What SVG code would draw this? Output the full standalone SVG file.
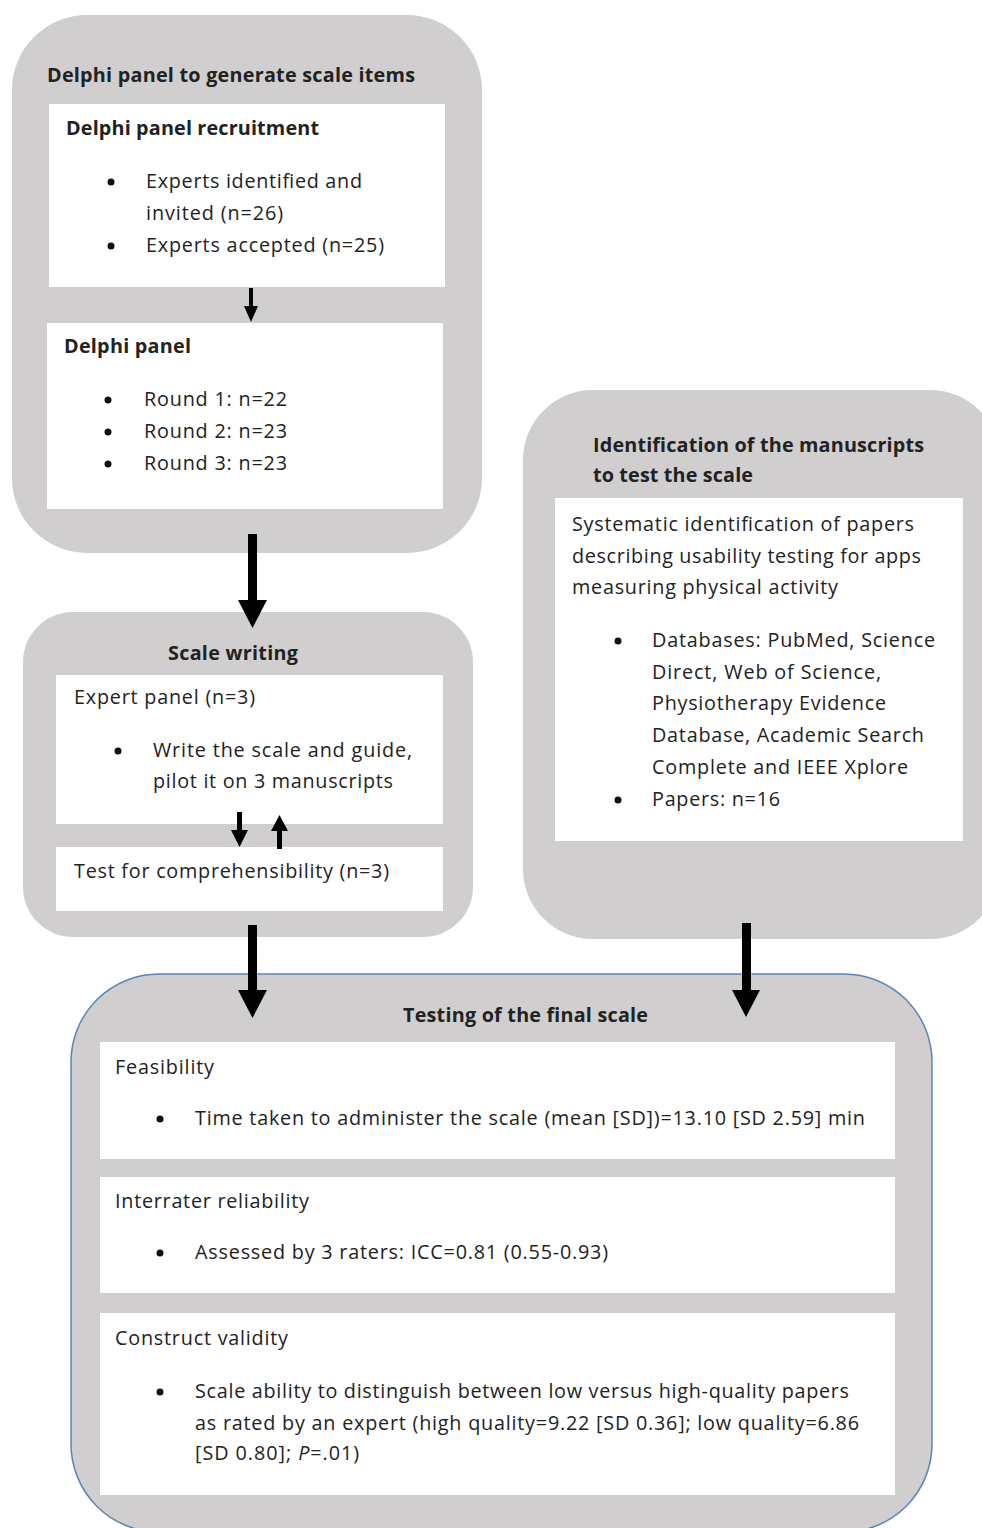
<svg xmlns="http://www.w3.org/2000/svg" width="982" height="1528" viewBox="0 0 982 1528">
<style>
.c{fill:#d0cece}
.cb{fill:#d0cece;stroke:#5a86b8;stroke-width:1.5}
.w{fill:#ffffff}
.t{font-family:"Open Sans","Noto Sans",sans-serif;font-size:19.8px;fill:#222222}
.b{font-weight:bold}
.dot{fill:#111111}
.ar{fill:#000000}
</style>
<rect width="982" height="1528" fill="#ffffff"/>

<g id="delphi">
<rect class="c" x="12" y="15" width="470" height="538" rx="75" ry="75"/>
<text class="t b" x="47" y="82" textLength="368">Delphi panel to generate scale items</text>
<g id="recruitment">
<rect class="w" x="49" y="104" width="396" height="183"/>
<text class="t b" x="66" y="135" textLength="253">Delphi panel recruitment</text>
<circle class="dot" cx="111" cy="182" r="3.5"/>
<text class="t" x="146" y="188" textLength="216">Experts identified and</text>
<text class="t" x="146" y="220" textLength="137">invited (n=26)</text>
<circle class="dot" cx="111" cy="246" r="3.5"/>
<text class="t" x="146" y="252" textLength="238">Experts accepted (n=25)</text>
</g>
<g id="panel">
<rect class="w" x="47" y="323" width="396" height="186"/>
<text class="t b" x="64" y="353" textLength="127">Delphi panel</text>
<circle class="dot" cx="108" cy="400" r="3.5"/>
<text class="t" x="144" y="406" textLength="143">Round 1: n=22</text>
<circle class="dot" cx="108" cy="432" r="3.5"/>
<text class="t" x="144" y="438" textLength="143">Round 2: n=23</text>
<circle class="dot" cx="108" cy="464" r="3.5"/>
<text class="t" x="144" y="470" textLength="143">Round 3: n=23</text>
</g>
</g>

<g id="scale-writing">
<rect class="c" x="23" y="612" width="450" height="325" rx="50" ry="50"/>
<text class="t b" x="168" y="660" textLength="130">Scale writing</text>
<g id="expert-panel">
<rect class="w" x="56" y="675" width="387" height="149"/>
<text class="t" x="74" y="704" textLength="181">Expert panel (n=3)</text>
<circle class="dot" cx="118" cy="751" r="3.5"/>
<text class="t" x="153" y="757" textLength="259">Write the scale and guide,</text>
<text class="t" x="153" y="788" textLength="240">pilot it on 3 manuscripts</text>
</g>
<g id="comprehensibility">
<rect class="w" x="56" y="847" width="387" height="64"/>
<text class="t" x="74" y="878" textLength="315">Test for comprehensibility (n=3)</text>
</g>
</g>

<g id="identification">
<rect class="c" x="523" y="390" width="477" height="549" rx="70" ry="70"/>
<text class="t b" x="593" y="452" textLength="331">Identification of the manuscripts</text>
<text class="t b" x="593" y="482" textLength="160">to test the scale</text>
<g id="systematic">
<rect class="w" x="555" y="498" width="408" height="343"/>
<text class="t" x="572" y="531" textLength="342">Systematic identification of papers</text>
<text class="t" x="572" y="563" textLength="349">describing usability testing for apps</text>
<text class="t" x="572" y="594" textLength="266">measuring physical activity</text>
<circle class="dot" cx="618" cy="641" r="3.5"/>
<text class="t" x="652" y="647" textLength="283">Databases: PubMed, Science</text>
<text class="t" x="652" y="679" textLength="229">Direct, Web of Science,</text>
<text class="t" x="652" y="710" textLength="234">Physiotherapy Evidence</text>
<text class="t" x="652" y="742" textLength="272">Database, Academic Search</text>
<text class="t" x="652" y="774" textLength="256">Complete and IEEE Xplore</text>
<circle class="dot" cx="618" cy="800" r="3.5"/>
<text class="t" x="652" y="806" textLength="128">Papers: n=16</text>
</g>
</g>

<g id="testing">
<rect class="cb" x="71" y="974" width="861" height="558" rx="88" ry="88"/>
<text class="t b" x="403" y="1022" textLength="245">Testing of the final scale</text>
<g id="feasibility">
<rect class="w" x="100" y="1042" width="795" height="117"/>
<text class="t" x="115" y="1074" textLength="99">Feasibility</text>
<circle class="dot" cx="160" cy="1119" r="3.5"/>
<text class="t" x="195" y="1125" textLength="670">Time taken to administer the scale (mean [SD])=13.10 [SD 2.59] min</text>
</g>
<g id="interrater">
<rect class="w" x="100" y="1177" width="795" height="116"/>
<text class="t" x="115" y="1208" textLength="194">Interrater reliability</text>
<circle class="dot" cx="160" cy="1253" r="3.5"/>
<text class="t" x="195" y="1259" textLength="413">Assessed by 3 raters: ICC=0.81 (0.55-0.93)</text>
</g>
<g id="construct">
<rect class="w" x="100" y="1313" width="795" height="182"/>
<text class="t" x="115" y="1345" textLength="173">Construct validity</text>
<circle class="dot" cx="160" cy="1392" r="3.5"/>
<text class="t" x="195" y="1398" textLength="654">Scale ability to distinguish between low versus high-quality papers</text>
<text class="t" x="195" y="1430" textLength="664">as rated by an expert (high quality=9.22 [SD 0.36]; low quality=6.86</text>
<text class="t" x="195" y="1460" textLength="164">[SD 0.80]; <tspan font-style="italic">P</tspan>=.01)</text>
</g>
</g>

<g id="connectors">
<polygon class="ar" points="249,288 253,288 253,306 258,306 251,322 244,306 249,306"/>
<polygon class="ar" points="248,534 257,534 257,600 267,600 252.5,628 238,600 248,600"/>
<polygon class="ar" points="237,812 242,812 242,830 248,830 239.5,847 231,830 237,830"/>
<polygon class="ar" points="277,849 282,849 282,831 288,831 279.5,815 271,831 277,831"/>
<polygon class="ar" points="248,925 257,925 257,990 267,990 252.5,1018 238,990 248,990"/>
<polygon class="ar" points="742,923 751,923 751,990 760,990 746,1017 732,990 742,990"/>
</g>
</svg>
